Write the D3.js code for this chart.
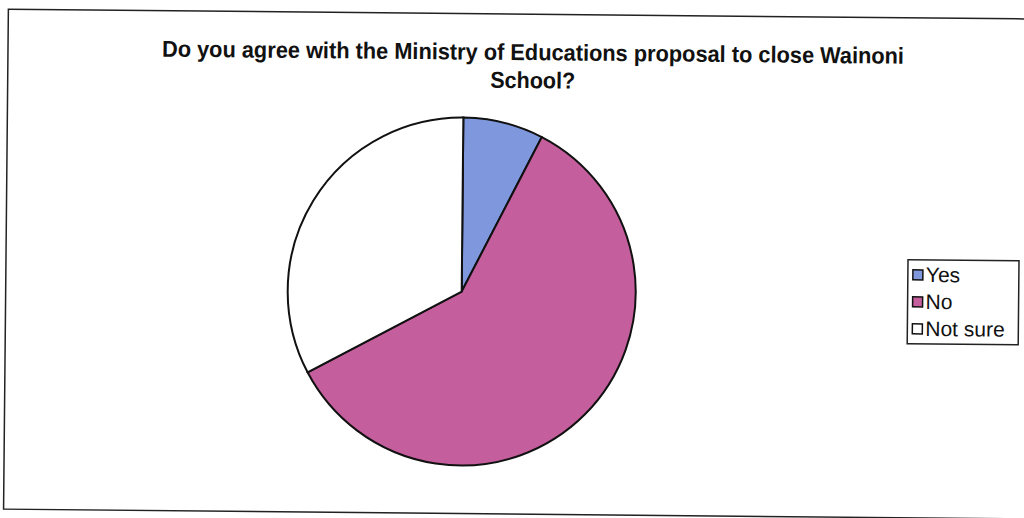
<!DOCTYPE html>
<html>
<head>
<meta charset="utf-8">
<script src="https://cdn.jsdelivr.net/npm/d3@7"></script>
<style>
  body { margin: 0; background: #fff; }
  text { font-family: "Liberation Sans", Arial, sans-serif; fill: #111; }
</style>
</head>
<body>
<svg id="chart" width="1024" height="518"></svg>
<script>
// survey answers (counts)
const categories = ['Yes', 'No', 'Not sure'];
const values = [5, 40, 22];
const colors = ['#7f97dc', '#c45e9d', '#ffffff'];
const titleLines = ['Do you agree with the Ministry of Educations proposal to close Wainoni', 'School?'];

const svg = d3.select('#chart');
const width = +svg.attr('width');
const height = +svg.attr('height');

// the scan is slightly tilted
const page = svg.append('g').attr('transform', `rotate(0.55, ${width / 2}, ${height / 2})`);

// outer chart frame
page.append('rect')
  .attr('x', 6).attr('y', 14)
  .attr('width', 1040).attr('height', 500)
  .attr('fill', 'none')
  .attr('stroke', '#222')
  .attr('stroke-width', 1.5);

// title (scan font is a condensed bold face)
page.append('g')
  .selectAll('text')
  .data(titleLines)
  .join('text')
  .attr('x', 531)
  .attr('y', (d, i) => 60 + i * 28)
  .attr('text-anchor', 'middle')
  .attr('font-size', 23)
  .attr('font-weight', 'bold')
  .attr('textLength', (d, i) => i === 0 ? 742 : 85)
  .attr('lengthAdjust', 'spacingAndGlyphs')
  .text(d => d);

// pie
const cx = 462, cy = 292, r = 174;
const pie = d3.pie().sort(null).value(d => d.value);
const arc = d3.arc().innerRadius(0).outerRadius(r);
const data = categories.map((c, i) => ({ name: c, value: values[i], color: colors[i] }));

page.append('g')
  .attr('transform', `translate(${cx},${cy})`)
  .selectAll('path')
  .data(pie(data))
  .join('path')
  .attr('d', arc)
  .attr('fill', d => d.data.color)
  .attr('stroke', '#111')
  .attr('stroke-width', 2);

// legend
const legend = page.append('g').attr('transform', 'translate(908,256)');
legend.append('rect')
  .attr('width', 111).attr('height', 84)
  .attr('fill', '#fff')
  .attr('stroke', '#222')
  .attr('stroke-width', 1.5);

const item = legend.selectAll('g.item')
  .data(data)
  .join('g')
  .attr('class', 'item')
  .attr('transform', (d, i) => `translate(5,${7 + i * 27})`);

item.append('rect')
  .attr('width', 10).attr('height', 10)
  .attr('y', 3)
  .attr('fill', d => d.color)
  .attr('stroke', '#111')
  .attr('stroke-width', 1.5);

item.append('text')
  .attr('x', 13)
  .attr('y', 15)
  .attr('font-size', 21)
  .text(d => d.name);
</script>
</body>
</html>
